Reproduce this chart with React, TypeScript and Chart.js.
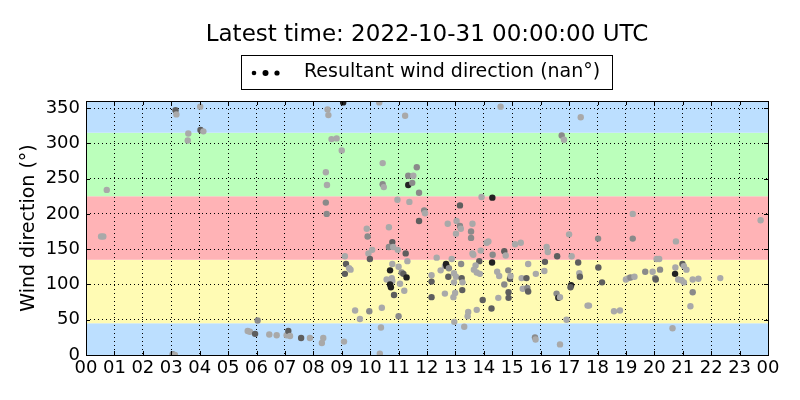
import React, { useEffect, useRef } from "react";
import { Chart, registerables } from "chart.js";

Chart.register(...registerables);

// time of day in hours, wind direction in degrees, grey level of each point (0 light .. 3 black)
const hours = [
  0.53, 0.61, 0.73, 3.05, 3.13, 3.15, 3.18, 3.58, 3.6, 4.02, 4.03, 4.13,
  5.69, 5.77, 5.95, 6.04, 6.45, 6.71, 7.06, 7.12, 7.18, 7.57, 7.88, 8.3,
  8.35, 8.44, 8.44, 8.47, 8.48, 8.5, 8.53, 8.64, 8.82, 9.0, 9.05, 9.08,
  9.11, 9.15, 9.26, 9.31, 9.11, 9.47, 9.64, 9.97, 9.88, 9.91, 9.94, 10.07,
  9.99, 10.32, 10.34, 10.38, 10.41, 10.44, 10.44, 10.48, 10.66, 10.78, 10.66, 10.81,
  10.97, 10.96, 10.78, 10.7, 11.0, 10.58, 10.76, 10.78, 10.7, 10.73, 10.84, 11.05,
  11.2, 11.0, 11.11, 11.17, 11.28, 11.25, 11.31, 11.23, 11.38, 11.34, 11.52, 11.34,
  11.48, 11.64, 11.72, 11.9, 11.93, 11.72, 12.16, 12.16, 12.16, 12.34, 12.48, 12.63,
  12.67, 12.69, 12.77, 12.75, 12.87, 12.63, 12.93, 12.99, 12.95, 13.02, 12.95, 13.2,
  13.22, 13.25, 13.24, 12.96, 13.31, 13.45, 13.43, 12.73, 13.04, 13.16, 13.19, 13.02,
  13.16, 13.55, 13.6, 13.55, 13.6, 13.63, 13.89, 13.92, 14.3, 14.16, 14.1, 13.84,
  13.71, 13.65, 13.75, 13.86, 14.31, 14.29, 13.96, 13.75, 14.27, 14.51, 14.47, 14.54,
  14.72, 14.72, 14.77, 14.86, 14.92, 14.94, 14.87, 14.87, 14.59, 15.1, 15.3, 15.56,
  15.33, 15.5, 15.37, 15.53, 15.56, 15.83, 15.8, 15.82, 16.15, 16.13, 16.21, 16.25,
  16.58, 16.56, 16.62, 16.68, 16.68, 16.74, 16.82, 16.91, 17.0, 17.09, 17.07, 17.05,
  17.32, 17.36, 17.38, 17.41, 17.65, 17.7, 18.02, 18.03, 18.16, 18.58, 18.79, 19.24,
  19.24, 19.0, 19.1, 19.16, 19.3, 19.68, 19.94, 20.03, 20.05, 20.08, 20.17, 20.2,
  20.64, 20.76, 20.74, 20.73, 20.99, 21.04, 21.13, 20.84, 20.96, 21.04, 21.35, 21.55,
  21.35, 21.27, 22.32, 23.74,
];
const directions = [
  168, 168, 234, 1, 0, 347, 341, 304, 314, 352, 319, 317,
  34, 33, 30, 49, 29, 28, 28, 34, 27, 24, 24, 17,
  24, 259, 216, 200, 241, 348, 340, 306, 307, 290, 358, 19,
  140, 129, 123, 121, 115, 63, 51, 62, 179, 168, 144, 149,
  136, 358, 2, 39, 67, 272, 242, 238, 181, 160, 153, 153,
  149, 220, 129, 120, 125, 107, 109, 105, 100, 96, 85, 101,
  91, 55, 117, 115, 110, 144, 133, 339, 217, 254, 254, 241,
  244, 266, 230, 205, 201, 190, 113, 104, 82, 138, 120, 126,
  129, 126, 123, 111, 136, 87, 82, 88, 116, 111, 103, 129,
  109, 103, 92, 47, 40, 61, 55, 186, 190, 183, 179, 172,
  212, 175, 186, 166, 144, 142, 148, 224, 223, 161, 159, 133,
  127, 121, 117, 115, 142, 131, 78, 64, 66, 81, 118, 112,
  100, 147, 141, 120, 108, 112, 89, 81, 352, 157, 159, 129,
  109, 109, 94, 95, 90, 115, 25, 22, 132, 119, 153, 146,
  140, 87, 81, 82, 15, 311, 305, 50, 171, 140, 99, 96,
  131, 116, 111, 337, 70, 70, 165, 124, 103, 62, 63, 200,
  165, 107, 109, 110, 111, 118, 118, 109, 107, 136, 136, 121,
  38, 161, 124, 115, 129, 126, 121, 107, 106, 103, 107, 108,
  89, 69, 109, 191,
];
const shades = [
  0, 0, 0, 1, 0, 2, 0, 0, 0, 0, 2, 0,
  0, 0, 2, 1, 0, 0, 0, 2, 0, 2, 0, 0,
  0, 0, 1, 1, 0, 0, 0, 0, 0, 0, 3, 0,
  0, 2, 0, 0, 2, 0, 0, 1, 0, 1, 0, 0,
  2, 0, 0, 0, 0, 0, 1, 0, 0, 2, 1, 0,
  0, 0, 0, 3, 0, 0, 0, 0, 3, 3, 2, 0,
  0, 1, 1, 2, 3, 2, 0, 0, 0, 1, 0, 3,
  1, 1, 1, 1, 0, 2, 0, 2, 2, 0, 0, 0,
  3, 3, 1, 2, 0, 0, 0, 0, 0, 0, 0, 1,
  2, 0, 2, 0, 0, 0, 0, 0, 0, 1, 0, 0,
  2, 1, 0, 1, 0, 0, 0, 0, 3, 0, 0, 2,
  0, 0, 0, 0, 1, 3, 2, 0, 2, 0, 0, 0,
  1, 2, 0, 1, 2, 0, 2, 2, 0, 0, 0, 0,
  0, 2, 0, 1, 2, 0, 1, 0, 2, 0, 0, 0,
  2, 1, 3, 0, 0, 1, 0, 0, 0, 0, 3, 2,
  2, 0, 2, 0, 0, 0, 1, 2, 2, 0, 0, 0,
  1, 0, 0, 1, 0, 1, 0, 1, 2, 0, 0, 1,
  0, 0, 0, 3, 2, 0, 0, 0, 0, 0, 0, 0,
  1, 0, 0, 0,
];
const greys = ["#a9a9a9", "#8a8a8a", "#5e5e5e", "#222222"];

const hourTicks = Array.from({ length: 25 }, (_, i) => i);
const degreeTicks = [0, 50, 100, 150, 200, 250, 300, 350];

// wind sectors painted behind the points
const bandEdges = [0, 45, 135, 225, 315, 360];
const bandColors = ["#bcdfff", "#fffbb4", "#ffb3b6", "#bbffbb", "#bcdfff"];

const titleText = "Latest time: 2022-10-31 00:00:00 UTC";
const legendText = "Resultant wind direction (nan°)";
const yLabel = "Wind direction (°)";
const FONT = "'DejaVu Sans', sans-serif";

const decorPlugin = {
  id: "decor",
  beforeDraw(chart) {
    const { ctx, chartArea, scales } = chart;
    ctx.save();
    ctx.fillStyle = "#ffffff";
    ctx.fillRect(0, 0, chart.width, chart.height);
    for (let i = 0; i < bandColors.length; i++) {
      const y1 = scales.y.getPixelForValue(bandEdges[i]);
      const y2 = scales.y.getPixelForValue(bandEdges[i + 1]);
      ctx.fillStyle = bandColors[i];
      ctx.fillRect(chartArea.left, y2, chartArea.right - chartArea.left, y1 - y2);
    }
    ctx.restore();
  },
  afterDraw(chart) {
    const { ctx, chartArea, scales } = chart;
    const { left, right, top, bottom } = chartArea;
    ctx.save();
    ctx.strokeStyle = "#000";
    ctx.lineWidth = 1;
    ctx.beginPath();
    hourTicks.forEach((h) => {
      const x = Math.round(scales.x.getPixelForValue(h)) + 0.5;
      ctx.moveTo(x, bottom);
      ctx.lineTo(x, bottom - 4);
      ctx.moveTo(x, top);
      ctx.lineTo(x, top + 4);
    });
    degreeTicks.forEach((d) => {
      const y = Math.round(scales.y.getPixelForValue(d)) + 0.5;
      ctx.moveTo(left, y);
      ctx.lineTo(left + 4, y);
      ctx.moveTo(right, y);
      ctx.lineTo(right - 4, y);
    });
    ctx.stroke();
    ctx.strokeRect(Math.round(left) + 0.5, Math.round(top) + 0.5, Math.round(right - left), Math.round(bottom - top));

    ctx.fillStyle = "#000";
    ctx.textAlign = "center";
    ctx.textBaseline = "middle";
    ctx.font = `23px ${FONT}`;
    ctx.fillText(titleText, (left + right) / 2, 35);

    // legend box
    ctx.fillStyle = "#fff";
    ctx.fillRect(241.5, 55.5, 371, 34);
    ctx.strokeRect(241.5, 55.5, 371, 34);
    ctx.fillStyle = "#000";
    [[254, 2.3], [265.5, 3], [277, 2.6]].forEach(([x, r]) => {
      ctx.beginPath();
      ctx.arc(x, 73, r, 0, Math.PI * 2);
      ctx.fill();
    });
    ctx.textAlign = "left";
    ctx.font = `19px ${FONT}`;
    ctx.fillText(legendText, 304, 72);

    ctx.translate(29, (top + bottom) / 2);
    ctx.rotate(-Math.PI / 2);
    ctx.textAlign = "center";
    ctx.fillText(yLabel, 0, 0);
    ctx.restore();
  },
};

const WindChart = () => {
  const canvasRef = useRef(null);
  const chartRef = useRef(null);

  useEffect(() => {
    const points = hours.map((h, i) => ({ x: h, y: directions[i] }));

    const config = {
      type: "scatter",
      data: {
        datasets: [
          {
            label: legendText,
            data: points,
            pointRadius: 3.2,
            pointHoverRadius: 3.2,
            pointBorderWidth: 0,
            pointBackgroundColor: shades.map((s) => greys[s]),
          },
        ],
      },
      options: {
        animation: false,
        responsive: false,
        devicePixelRatio: 1,
        layout: { padding: { top: 101, right: 32, left: 0, bottom: 0 } },
        plugins: {
          legend: { display: false },
          title: { display: false },
          tooltip: { enabled: false },
        },
        scales: {
          x: {
            type: "linear",
            min: 0,
            max: 24,
            afterBuildTicks: (axis) => {
              axis.ticks = hourTicks.map((v) => ({ value: v }));
            },
            afterFit: (axis) => {
              axis.height = 45;
            },
            ticks: {
              autoSkip: false,
              maxRotation: 0,
              padding: 3,
              color: "#000",
              font: { family: FONT, size: 18 },
              callback: (v) => String(Number(v) % 24).padStart(2, "0"),
            },
            grid: { color: "#000", lineWidth: 1, drawTicks: false },
            border: { display: false, dash: [1, 3] },
          },
          y: {
            min: 0,
            max: 360,
            afterBuildTicks: (axis) => {
              axis.ticks = degreeTicks.map((v) => ({ value: v }));
            },
            afterFit: (axis) => {
              axis.width = 86;
            },
            ticks: {
              padding: 6,
              color: "#000",
              font: { family: FONT, size: 18 },
            },
            grid: { color: "#000", lineWidth: 1, drawTicks: false },
            border: { display: false, dash: [1, 3] },
          },
        },
      },
      plugins: [decorPlugin],
    };

    if (chartRef.current) {
      chartRef.current.destroy();
    }
    if (canvasRef.current) {
      chartRef.current = new Chart(canvasRef.current, config);
    }

    return () => {
      if (chartRef.current) {
        chartRef.current.destroy();
        chartRef.current = null;
      }
    };
  }, []);

  return (
    <div style={{ position: "fixed", left: 0, top: 0, width: 800, height: 400, background: "#fff" }}>
      <canvas ref={canvasRef} width={800} height={400}></canvas>
    </div>
  );
};

export default function App() {
  return <WindChart />;
}
